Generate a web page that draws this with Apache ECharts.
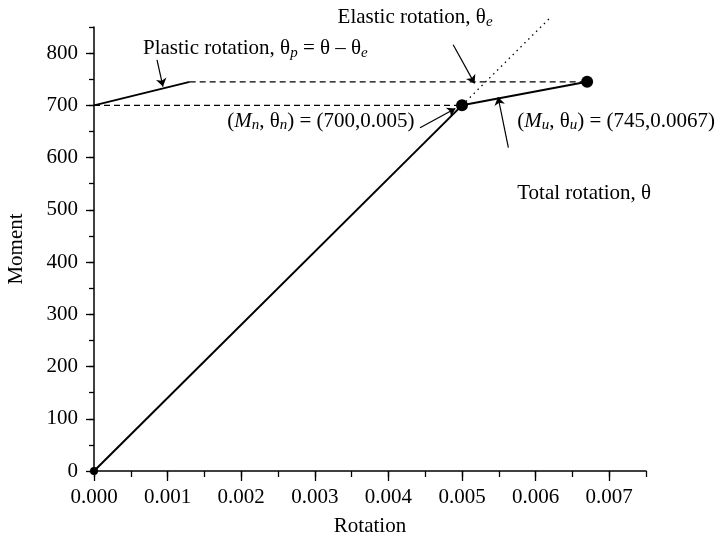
<!DOCTYPE html>
<html>
<head>
<meta charset="utf-8">
<script src="https://cdn.jsdelivr.net/npm/echarts@6/dist/echarts.min.js"></script>
<style>
  html, body { margin: 0; padding: 0; background: #fff; }
  #chart { width: 719px; height: 537px; }
</style>
</head>
<body>
<div id="chart"></div>
<script>
// moment-rotation data
var elasticLine = [[0, 0], [0.005, 700]];
var hardeningLine = [[0.005, 700], [0.0067, 745]];
var plasticLine = [[0, 700], [0.0013, 745]];
var dashedUpper = [[0.0013, 745], [0.0067, 745]];
var dashedLower = [[0, 700], [0.005, 700]];
var elasticExtension = [[0.005, 700], [0.0062, 868]];
var keyPoints = [[0.005, 700], [0.0067, 745]];
var originPoint = [[0, 0]];

var xMajorTicks = [0, 0.001, 0.002, 0.003, 0.004, 0.005, 0.006, 0.007];
var yMajorTicks = [0, 100, 200, 300, 400, 500, 600, 700, 800];

// annotation arrows [from, to] in data units
var arrows = [
  [[0.000856, 787], [0.000937, 736]],
  [[0.00488, 816], [0.00517, 742]],
  [[0.00443, 657], [0.00491, 694]],
  [[0.00563, 619], [0.00549, 716]]
];

var FONT = 'Liberation Serif';
var FS = 21;
var yieldPt = keyPoints[0];
var ultPt = keyPoints[1];

var labels = [
  { coord: [0.000666, 808], text: '{t|Plastic rotation, θ}{s|p}{t| = θ – θ}{s|e}' },
  { coord: [0.00181, 670], text: '{t|(}{i|M}{s|n}{t|, θ}{s|n}{t|) = (' + yieldPt[1] + ',' + yieldPt[0] + ')}' },
  { coord: [0.00575, 670], text: '{t|(}{i|M}{s|u}{t|, θ}{s|u}{t|) = (' + ultPt[1] + ',' + ultPt[0] + ')}' },
  { coord: [0.00575, 532], text: '{t|Total rotation, θ}' }
];
// sits above the top of the y axis, so it goes in as a graphic
var topLabel = { coord: [0.00331, 869], text: '{t|Elastic rotation, θ}{s|e}' };

var rich = {
  t: { fontFamily: FONT, fontSize: FS, color: '#000', lineHeight: 24 },
  i: { fontFamily: FONT, fontSize: FS, fontStyle: 'italic', color: '#000', lineHeight: 24 },
  s: { fontFamily: FONT, fontSize: 15, fontStyle: 'italic', color: '#000', lineHeight: 10, verticalAlign: 'bottom' }
};

var chart = echarts.init(document.getElementById('chart'));

function lineSeries(data, type, width, clip) {
  return {
    type: 'line',
    data: data,
    symbol: 'none',
    clip: clip !== false,
    silent: true,
    lineStyle: { color: '#000', width: width, type: type },
    z: 3
  };
}

var axisText = { fontFamily: FONT, fontSize: FS, color: '#000' };

chart.setOption({
  animation: false,
  backgroundColor: '#fff',
  grid: { left: 94, right: 73, top: 27, bottom: 66, outerBoundsMode: 'none' },
  xAxis: [{
    type: 'value',
    position: 'bottom',
    min: 0,
    max: 0.0075,
    interval: 0.0005,
    name: 'Rotation',
    nameLocation: 'middle',
    nameGap: 45,
    nameTextStyle: axisText,
    axisLine: { lineStyle: { color: '#000', width: 1.5 } },
    axisTick: { length: 6, lineStyle: { color: '#000', width: 1.3 } },
    axisLabel: { show: false },
    splitLine: { show: false }
  }, {
    type: 'value',
    position: 'bottom',
    offset: 0,
    min: 0,
    max: 0.0075,
    axisLine: { show: false },
    axisTick: { customValues: xMajorTicks, length: 10, lineStyle: { color: '#000', width: 1.3 } },
    axisLabel: {
      customValues: xMajorTicks,
      margin: 16,
      fontFamily: FONT, fontSize: FS, color: '#000',
      formatter: function (v) { return v.toFixed(3); }
    },
    splitLine: { show: false }
  }],
  yAxis: [{
    type: 'value',
    position: 'left',
    min: 0,
    max: 850,
    interval: 50,
    name: 'Moment',
    nameLocation: 'middle',
    nameGap: 67,
    nameTextStyle: axisText,
    axisLine: { show: true, lineStyle: { color: '#000', width: 1.5 } },
    axisTick: { show: true, length: 5, lineStyle: { color: '#000', width: 1.3 } },
    axisLabel: { show: false },
    splitLine: { show: false }
  }, {
    type: 'value',
    position: 'left',
    offset: 0,
    min: 0,
    max: 850,
    axisLine: { show: false },
    axisTick: { show: true, customValues: yMajorTicks, length: 8, lineStyle: { color: '#000', width: 1.3 } },
    axisLabel: { customValues: yMajorTicks, margin: 16, fontFamily: FONT, fontSize: FS, color: '#000' },
    splitLine: { show: false }
  }],
  series: [
    lineSeries(elasticLine, 'solid', 2),
    lineSeries(hardeningLine, 'solid', 2),
    lineSeries(plasticLine, 'solid', 2),
    lineSeries(dashedUpper, [6, 4], 1.3),
    lineSeries(dashedLower, [6, 4], 1.3),
    lineSeries(elasticExtension, [1.5, 4], 1.3, false),
    {
      type: 'scatter',
      data: originPoint,
      symbolSize: 8,
      itemStyle: { color: '#000', opacity: 1 },
      silent: true,
      z: 4
    },
    {
      type: 'scatter',
      data: keyPoints,
      symbolSize: 12,
      itemStyle: { color: '#000', opacity: 1 },
      silent: true,
      z: 5,
      markLine: {
        silent: true,
        symbol: ['none', 'arrow'],
        symbolSize: 8,
        label: { show: false },
        lineStyle: { color: '#000', width: 1.2, type: 'solid' },
        emphasis: { disabled: true },
        data: arrows.map(function (a) {
          return [{ coord: a[0] }, { coord: a[1] }];
        })
      },
      markPoint: {
        silent: true,
        symbolSize: 0,
        data: labels.map(function (l) {
          return {
            coord: l.coord,
            label: {
              show: true,
              position: 'right',
              distance: 0,
              formatter: l.text,
              rich: rich
            }
          };
        })
      }
    }
  ]
});

/* place the label above the plot area */
var pos = chart.convertToPixel({ xAxisIndex: 0, yAxisIndex: 0 }, topLabel.coord);
var zrRich = {};
Object.keys(rich).forEach(function (k) {
  var r = rich[k];
  zrRich[k] = {
    fontFamily: r.fontFamily, fontSize: r.fontSize, fontStyle: r.fontStyle,
    fill: '#000', lineHeight: r.lineHeight, verticalAlign: r.verticalAlign
  };
});
chart.setOption({
  graphic: [{
    type: 'text',
    x: pos[0],
    y: pos[1],
    silent: true,
    style: {
      text: topLabel.text,
      rich: zrRich,
      fill: '#000',
      align: 'left',
      verticalAlign: 'middle'
    }
  }]
});
</script>
</body>
</html>
